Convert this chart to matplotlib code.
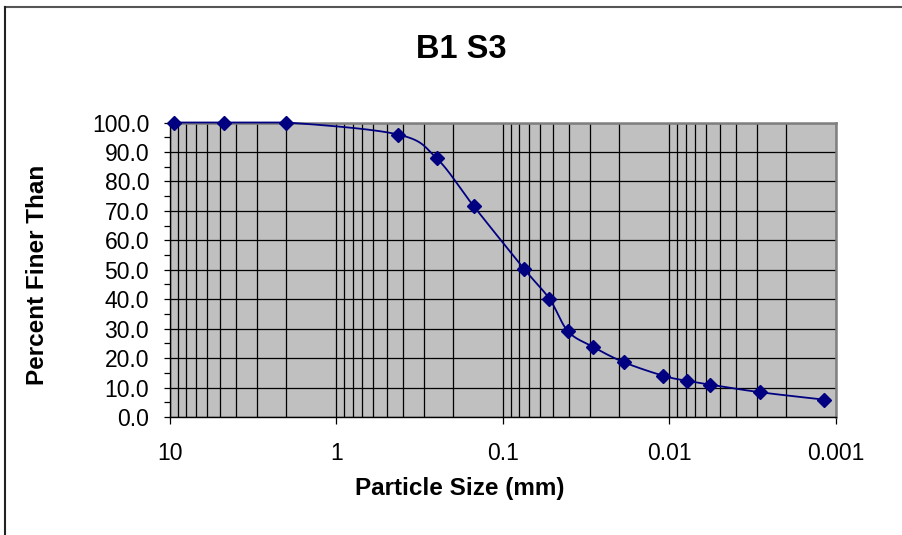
import numpy as np
import matplotlib
matplotlib.use("Agg")
import matplotlib.pyplot as plt
from matplotlib.ticker import FixedLocator, LogLocator, NullFormatter, MultipleLocator
from matplotlib.lines import Line2D

# ---- data ----
title = "B1 S3"
x_label = "Particle Size (mm)"
y_label = "Percent Finer Than"
particle_size = [9.5, 4.75, 2.0, 0.425, 0.25, 0.15, 0.075, 0.0526, 0.0407,
                 0.029, 0.0188, 0.0109, 0.0079, 0.0057, 0.00285, 0.00118]
percent_finer = [100.0, 100.0, 100.0, 95.9, 87.8, 71.6, 50.4, 40.1, 29.1,
                 23.9, 18.6, 14.0, 12.3, 11.0, 8.4, 5.9]
x_ticks = [10, 1, 0.1, 0.01, 0.001]
x_tick_labels = ["10", "1", "0.1", "0.01", "0.001"]

plt.rcParams['font.family'] = ['Liberation Sans', 'DejaVu Sans']

W, H = 903, 535
fig = plt.figure(figsize=(W / 100, H / 100), dpi=100)

left, right, top, bottom = 170, 836, 122.5, 417
ax = fig.add_axes([left / W, 1 - bottom / H, (right - left) / W, (bottom - top) / H])
ax.set_facecolor("#C0C0C0")
ax.set_xscale("log")
ax.set_xlim(10, 0.001)
ax.set_ylim(0, 100)

# smooth (Excel-like) curve computed in display-proportional space
def smooth(xs, ys, n=30):
    sx = (right - left) / 4.0
    sy = (bottom - top) / 100.0
    P = np.column_stack([np.log10(xs) * sx, np.array(ys) * sy])
    Pe = np.vstack([P[0], P, P[-1]])
    out = []
    for i in range(len(P) - 1):
        p0, p1, p2, p3 = Pe[i], Pe[i + 1], Pe[i + 2], Pe[i + 3]
        c1 = p1 + (p2 - p0) / 6.0
        c2 = p2 - (p3 - p1) / 6.0
        t = np.linspace(0, 1, n)[:, None]
        seg = ((1 - t) ** 3) * p1 + 3 * ((1 - t) ** 2) * t * c1 + 3 * (1 - t) * t ** 2 * c2 + t ** 3 * p2
        out.append(seg if i == 0 else seg[1:])
    S = np.vstack(out)
    return 10 ** (S[:, 0] / sx), S[:, 1] / sy

sx_, sy_ = smooth(particle_size, percent_finer)
sy_ = np.minimum(sy_, max(percent_finer))
ax.plot(sx_, sy_, color="#000080", lw=1.3, zorder=4, clip_on=False)
ax.plot(particle_size, percent_finer, linestyle="none", marker="D", markersize=7,
        color="#000080", zorder=5, clip_on=False)

# grid
ax.xaxis.set_major_locator(FixedLocator(x_ticks))
ax.set_xticklabels(x_tick_labels)
ax.xaxis.set_minor_locator(LogLocator(base=10, subs=np.arange(2, 10)))
ax.xaxis.set_minor_formatter(NullFormatter())
ax.set_yticks(np.arange(0, 101, 10))
ax.set_yticklabels([f"{v:.1f}" for v in np.arange(0, 101, 10)])
ax.yaxis.set_minor_locator(MultipleLocator(5))
ax.grid(True, which="major", axis="both", color="black", lw=0.9)
ax.grid(True, which="minor", axis="x", color="black", lw=0.9)
ax.set_axisbelow(True)

ax.tick_params(axis="y", which="major", direction="out", length=4, width=0.9, labelsize=16.5, pad=11)
ax.tick_params(axis="y", which="minor", direction="out", length=4, width=0.9)
ax.tick_params(axis="x", which="major", direction="out", length=5, width=0.9, labelsize=16.5, pad=13)
ax.tick_params(axis="x", which="minor", length=0)

for s in ["left", "bottom"]:
    ax.spines[s].set_color("black")
    ax.spines[s].set_linewidth(1.0)
for s in ["top", "right"]:
    ax.spines[s].set_color("#808080")
    ax.spines[s].set_linewidth(1.8)

# labels
fig.text(461 / W, 1 - 49 / H, title, ha="center", va="center", fontsize=23.5, fontweight="bold")
fig.text(460 / W, 1 - 488 / H, x_label, ha="center", va="center", fontsize=17.5, fontweight="bold")
fig.text(38 / W, 1 - 275 / H, y_label, ha="center", va="center", fontsize=17.5, fontweight="bold",
         rotation=90)

# chart area border (partially visible)
fig.add_artist(Line2D([5 / W, 1], [1 - 6.5 / H, 1 - 6.5 / H], transform=fig.transFigure,
                      color="#555555", lw=1.5))
fig.add_artist(Line2D([5 / W, 5 / W], [0, 1 - 6.5 / H], transform=fig.transFigure,
                      color="#222222", lw=1.5))

fig.savefig("out.png", dpi=100)
